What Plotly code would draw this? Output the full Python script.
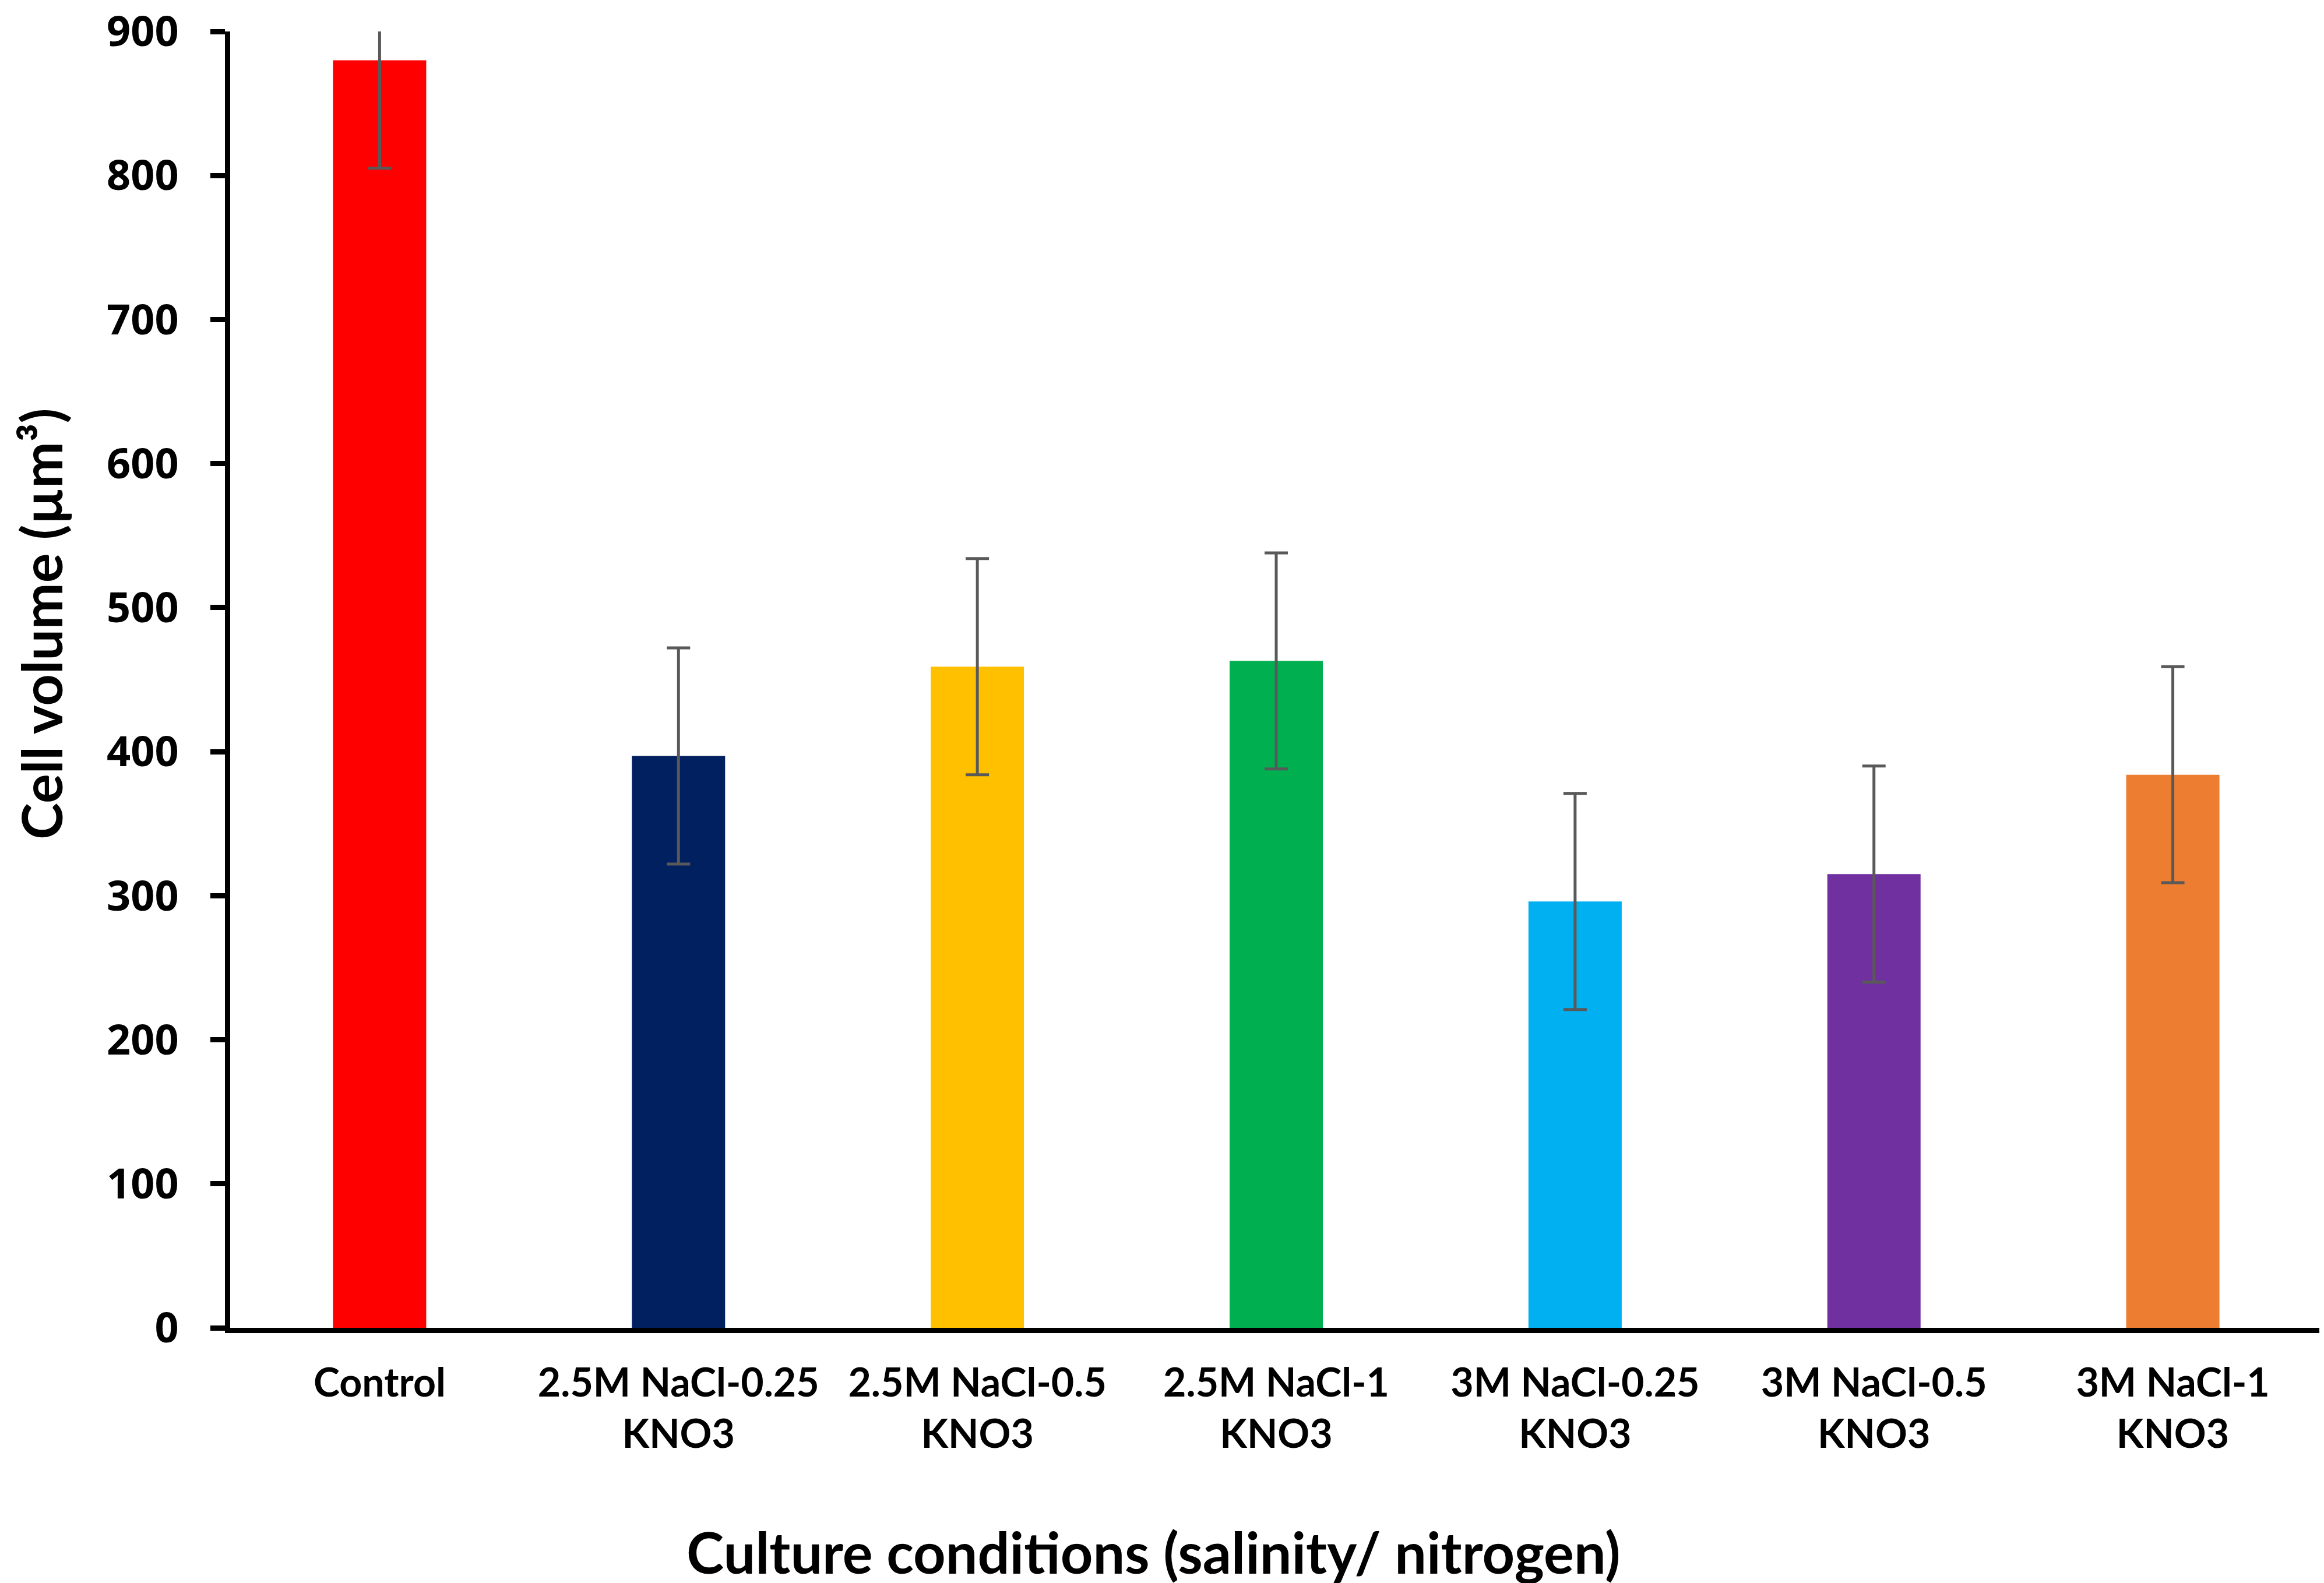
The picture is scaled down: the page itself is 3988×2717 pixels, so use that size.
import plotly.graph_objects as go

# culture conditions (x categories), two-line labels as in the figure
conditions = [
    "Control",
    "2.5M NaCl-0.25<br>KNO3",
    "2.5M NaCl-0.5<br>KNO3",
    "2.5M NaCl-1<br>KNO3",
    "3M NaCl-0.25<br>KNO3",
    "3M NaCl-0.5<br>KNO3",
    "3M NaCl-1<br>KNO3",
]
cell_volume = [880, 397, 459, 463, 296, 315, 384]
cell_volume_sd = [75, 75, 75, 75, 75, 75, 75]
bar_colors = ["#FF0000", "#002060", "#FFC000", "#00B050", "#00B0F0", "#7030A0", "#ED7D31"]

fig = go.Figure()
fig.add_trace(go.Bar(
    x=conditions, y=cell_volume,
    marker=dict(color=bar_colors, line=dict(width=0)),
    error_y=dict(type="data", array=cell_volume_sd, visible=True,
                 color="#595959", thickness=5, width=20),
))

fig.update_layout(
    width=3988, height=2717,
    margin=dict(l=387, r=11, t=46, b=446),
    plot_bgcolor="white", paper_bgcolor="white",
    bargap=0.688, showlegend=False,
    font=dict(family="Lato", color="black"),
)
fig.update_xaxes(
    showline=True, linecolor="black", linewidth=9,
    ticks="", showgrid=False, automargin=False,
    tickfont=dict(family="Lato", size=68, weight="bold", color="black"),
    ticklabelstandoff=27,
)
fig.update_yaxes(
    range=[0, 900], dtick=100, showgrid=False, zeroline=False,
    showline=True, linecolor="black", linewidth=9, automargin=False,
    ticks="outside", ticklen=25, tickwidth=9, tickcolor="black",
    tickfont=dict(family="Open Sans", size=72, weight="bold", color="black"),
    ticklabelstandoff=40, ticklabeloverflow="allow",
)

fig.add_annotation(text="Cell volume (µm³)", xref="paper", yref="paper",
                   x=-0.0905, y=0.543, xanchor="center", yanchor="middle",
                   textangle=-90, showarrow=False,
                   font=dict(family="Lato", size=95, weight="bold", color="black"))
fig.add_annotation(text="Culture conditions (salinity/ nitrogen)", xref="paper", yref="paper",
                   x=0.4415, y=-0.173, xanchor="center", yanchor="middle",
                   showarrow=False,
                   font=dict(family="Lato", size=97, weight="bold", color="black"))

fig.write_html("out.html")
